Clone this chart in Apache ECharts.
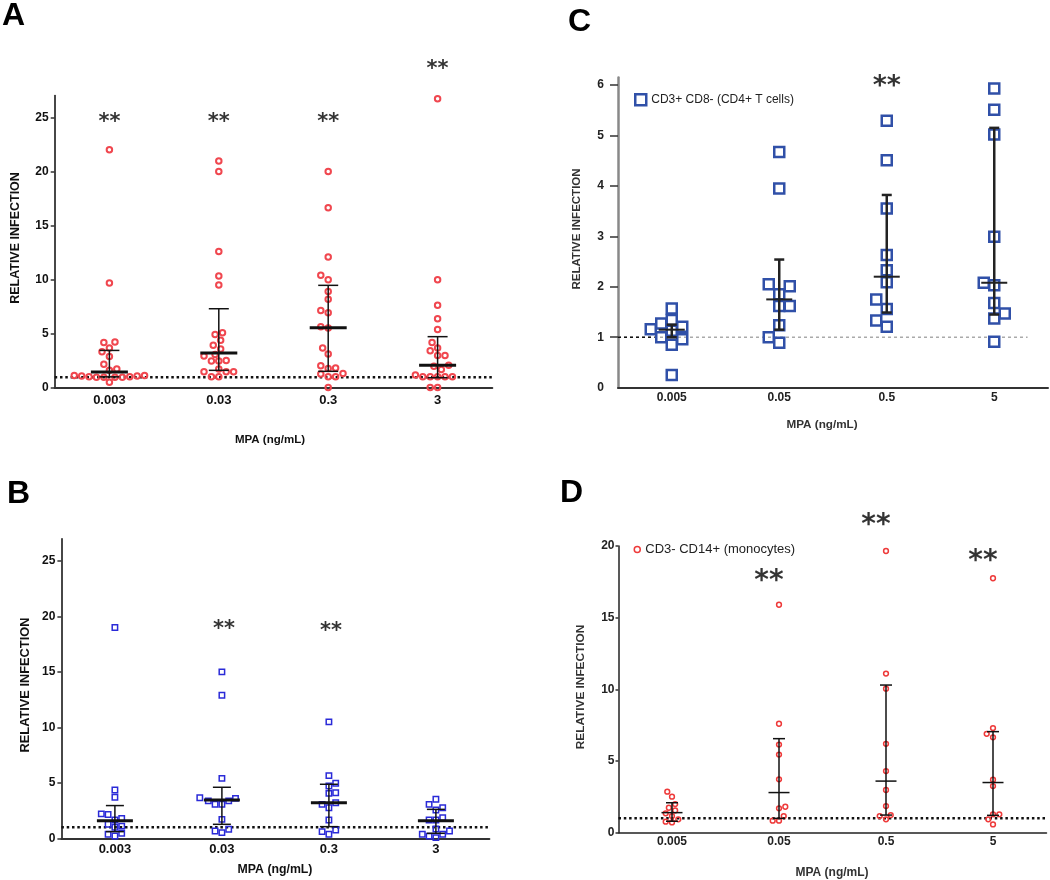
<!DOCTYPE html>
<html><head><meta charset="utf-8">
<script src="https://cdn.jsdelivr.net/npm/echarts@6/dist/echarts.min.js"></script>
<style>html,body{margin:0;padding:0;background:#fff}#c{width:1050px;height:880px}</style>
</head><body><div id="c"></div>
<script>
// ---------------- DATA ----------------
const catsAB = ['0.003', '0.03', '0.3', '3'];
const catsCD = ['0.005', '0.05', '0.5', '5'];
const ticksAB = [0, 5, 10, 15, 20, 25];
const ticksC = [0, 1, 2, 3, 4, 5, 6];
const ticksD = [0, 5, 10, 15, 20];
const refValue = 1;

// Panel A (circles)
const a0 = [22.0, 9.7, 4.25, 4.2, 3.7, 3.35, 2.9, 2.2, 1.75, 1.65, 1.15, 1.1, 1.05, 1.0, 1.0, 1.0, 1.0, 1.05, 1.1, 1.15, 0.52];
const a1 = [20.96, 20.0, 12.6, 10.35, 9.5, 5.1, 4.95, 4.4, 3.95, 3.6, 3.1, 2.95, 2.55, 2.5, 2.5, 1.75, 1.5, 1.5, 1.5, 1.05, 1.05];
const a2 = [20.0, 16.65, 12.1, 10.4, 10.0, 8.9, 8.2, 7.15, 6.95, 5.65, 5.55, 3.7, 3.15, 2.05, 1.85, 1.8, 1.35, 1.3, 1.05, 1.05, 0.05];
const a3 = [26.7, 10.0, 7.65, 6.4, 5.4, 4.2, 3.7, 3.45, 3.0, 3.0, 2.1, 2.0, 1.7, 1.2, 1.05, 1.05, 1.05, 1.05, 1.05, 0.05, 0.05];
const medA = [1.48, 3.23, 5.57, 2.09];
const lowA = [1.03, 1.63, 1.54, 0.95];
const highA = [3.47, 7.32, 9.48, 4.74];
const starsA = [25, 25, 25, 29.9];

// Panel B (squares)
const b0 = [19.0, 4.36, 3.7, 2.2, 2.15, 1.8, 1.65, 1.26, 1.1, 1.0, 0.45, 0.36, 0.21];
const b1 = [15.0, 12.9, 5.4, 3.66, 3.6, 3.37, 3.37, 3.07, 3.07, 1.71, 0.81, 0.66, 0.51];
const b2 = [10.5, 5.65, 4.96, 4.72, 4.11, 4.05, 3.21, 3.06, 2.76, 1.65, 0.75, 0.6, 0.36];
const b3 = [3.52, 3.06, 2.76, 2.55, 1.86, 1.65, 1.65, 0.84, 0.66, 0.36, 0.36, 0.2, 0.06];
const medB = [1.59, 3.45, 3.21, 1.59];
const lowB = [0.6, 1.26, 1.05, 0.45];
const highB = [2.95, 4.6, 4.87, 2.61];
const starsB = [null, 19.3, 19.1, null];

// Panel C (CD4+ T cells)
const c0 = [1.57, 1.34, 1.27, 1.21, 1.16, 1.13, 1.0, 0.96, 0.85, 0.25];
const c1 = [4.67, 3.95, 2.05, 2.01, 1.85, 1.62, 1.62, 1.24, 1.0, 0.89];
const c2 = [5.29, 4.51, 3.55, 2.63, 2.33, 2.09, 1.75, 1.56, 1.33, 1.21];
const c3 = [5.93, 5.51, 5.02, 2.99, 2.08, 2.03, 1.68, 1.47, 1.37, 0.91];
const medC = [1.15, 1.75, 2.2, 2.08];
const lowC = [1.0, 1.15, 1.49, 1.45];
const highC = [1.25, 2.54, 3.82, 5.15];
const starsC = [null, null, 6.09, null];
const nameC = 'CD3+ CD8- (CD4+ T cells)';

// Panel D (monocytes)
const d0 = [2.86, 2.51, 2.0, 1.74, 1.55, 1.35, 1.16, 0.93, 0.77, 0.72];
const d1 = [15.9, 7.6, 6.15, 5.45, 3.72, 1.81, 1.7, 1.16, 0.84, 0.84];
const d2 = [19.65, 11.1, 10.05, 6.2, 4.3, 2.98, 1.86, 1.23, 1.16, 0.93];
const d3 = [17.75, 7.3, 6.9, 6.65, 3.7, 3.25, 1.28, 1.28, 0.93, 0.58];
const medD = [1.4, 2.8, 3.6, 3.5];
const lowD = [0.8, 1.0, 1.23, 1.21];
const highD = [2.09, 6.56, 10.3, 7.05];
const starsD = [null, 18.0, 21.9, 19.4];
const nameD = 'CD3- CD14+ (monocytes)';

// ---------------- LAYOUT / STYLE ----------------
const FONT = '"Liberation Sans", Arial, Helvetica, sans-serif';
const STARFONT = '"DejaVu Sans", "Liberation Sans", sans-serif';
const panels = [
  { letter: 'A', cats: catsAB, groups: [a0, a1, a2, a3], med: medA, low: lowA, high: highA, stars: starsA,
    grid: { left: 54.7, top: 95.6, width: 437.6, height: 292.4 }, ymax: 27, ticks: ticksAB, tickVals: ticksAB,
    symbol: 'circle', size: 5.5, bw: 2, color: '#f0474f', d: 7.4, square: false,
    capW: 20, medW: 37, lw: 1.5, medLW: 3, barColor: '#111',
    axisColor: '#333', yAxisW: 1.8, xAxisW: 2, tickLen: 4, yMargin: 6, xMargin: 6, tickFont: 12, xTickFont: 13, labelColor: '#111',
    starFont: 21, starOff: 0, refColor: '#111', refType: [2.5, 2.8], refW: 2.5 },
  { letter: 'B', cats: catsAB, groups: [b0, b1, b2, b3], med: medB, low: lowB, high: highB, stars: starsB,
    grid: { left: 61.4, top: 538.8, width: 428, height: 299.5 }, ymax: 27, ticks: ticksAB, tickVals: ticksAB,
    symbol: 'rect', size: 5.4, bw: 1.5, color: '#2a2ad8', d: 6.8, square: true,
    capW: 18, medW: 36, lw: 1.5, medLW: 3, barColor: '#111',
    axisColor: '#333', yAxisW: 1.8, xAxisW: 2, tickLen: 4, yMargin: 6, xMargin: 5, tickFont: 12, xTickFont: 13, labelColor: '#111',
    starFont: 21, starOff: 2, refColor: '#111', refType: [2.5, 2.8], refW: 2.5 },
  { letter: 'C', cats: catsCD, groups: [c0, c1, c2, c3], med: medC, low: lowC, high: highC, stars: starsC, name: nameC,
    grid: { left: 618, top: 77.4, width: 430, height: 310.3 }, ymax: 6.15, ticks: ticksC, tickVals: ticksC.slice(1),
    symbol: 'rect', size: 10, bw: 2.5, color: '#3050a8', d: 10.5, square: true,
    capW: 10, medW: 26, lw: 2.5, medLW: 2, barColor: '#222',
    axisColor: '#888', yAxisW: 2.5, xAxisW: 2, tickLen: 8, yMargin: 14, xMargin: 4, tickFont: 12, xTickFont: 12, labelColor: '#222',
    starFont: 27, starOff: 0, refColor: '#aaa', refType: [3, 3], refW: 1.5 },
  { letter: 'D', cats: catsCD, groups: [d0, d1, d2, d3], med: medD, low: lowD, high: highD, stars: starsD, name: nameD,
    grid: { left: 618.5, top: 546, width: 428, height: 286.7 }, ymax: 20, ticks: ticksD, tickVals: ticksD,
    symbol: 'circle', size: 4.8, bw: 1.5, color: '#ee3a3a', d: 6.3, square: false,
    capW: 12, medW: 21, lw: 1.5, medLW: 1.5, barColor: '#111',
    axisColor: '#222', yAxisW: 1.5, xAxisW: 1.5, tickLen: 3, yMargin: 4, xMargin: 3, tickFont: 12, xTickFont: 12, labelColor: '#222',
    starFont: 28, starOff: -10, refColor: '#111', refType: [2.5, 2.8], refW: 2.5 }
];

// beeswarm-style horizontal spreading (pixel based, converted to axis units)
function swarm(vals, dPx, pxX, pxY, square) {
  const order = vals.map((v, i) => i).sort((a, b) => vals[a] - vals[b]);
  const placed = [];
  const offs = new Array(vals.length).fill(0);
  const step = dPx / 4;
  order.forEach((i, n) => {
    const y = vals[i] * pxY;
    const sgn = n % 2 ? -1 : 1;
    for (let k = 0; k < 400; k++) {
      const m = Math.ceil(k / 2) * (k % 2 ? sgn : -sgn);
      const x = m * step;
      let ok = true;
      for (const p of placed) {
        const dx = Math.abs(p.x - x), dy = Math.abs(p.y - y);
        const hit = square ? (dx < dPx && dy < dPx) : (dx * dx + dy * dy < dPx * dPx);
        if (hit) { ok = false; break; }
      }
      if (ok) { placed.push({ x, y }); offs[i] = x / pxX; break; }
    }
  });
  return offs;
}

const grids = [], xAxes = [], yAxes = [], series = [], graphics = [], legends = [];
panels.forEach((p, i) => {
  grids.push(Object.assign({}, p.grid));
  const pxX = p.grid.width / 4, pxY = p.grid.height / p.ymax;
  xAxes.push({
    gridIndex: i, type: 'value', min: -0.5, max: 3.5,
    axisLine: { show: true, onZero: false, lineStyle: { color: p.axisColor === '#888' ? '#333' : p.axisColor, width: p.xAxisW } },
    axisTick: { show: false }, splitLine: { show: false },
    axisLabel: { customValues: [0, 1, 2, 3], formatter: v => p.cats[Math.round(v)], margin: p.xMargin,
      fontSize: p.xTickFont, fontWeight: 'bold', color: p.labelColor, fontFamily: FONT }
  });
  yAxes.push({
    gridIndex: i, type: 'value', min: 0, max: p.ymax,
    axisLine: { show: true, onZero: false, lineStyle: { color: p.axisColor, width: p.yAxisW } },
    axisTick: { show: true, customValues: p.tickVals, length: p.tickLen, lineStyle: { color: '#333', width: 1.5 } },
    splitLine: { show: false },
    axisLabel: { customValues: p.ticks, margin: p.yMargin, fontSize: p.tickFont, fontWeight: 'bold', color: p.labelColor, fontFamily: FONT }
  });
  // points
  const pts = [];
  p.groups.forEach((vals, ci) => {
    const offs = swarm(vals, p.d, pxX, pxY, p.square);
    vals.forEach((v, k) => pts.push([ci + offs[k], v]));
  });
  series.push({
    type: 'scatter', name: p.name || ('P' + p.letter), xAxisIndex: i, yAxisIndex: i, data: pts,
    symbol: p.symbol, symbolSize: p.size, z: 2,
    itemStyle: { color: 'rgba(255,255,255,0)', borderColor: p.color, borderWidth: p.bw, opacity: 1 },
    emphasis: { disabled: true }, silent: true
  });
  // reference line
  if (p.letter === 'C') {
    series.push({ type: 'line', xAxisIndex: i, yAxisIndex: i, data: [[-0.5, refValue], [3.31, refValue]], showSymbol: false,
      lineStyle: { color: p.refColor, type: p.refType, width: p.refW }, silent: true, z: 1 });
    series.push({ type: 'line', xAxisIndex: i, yAxisIndex: i, data: [[-0.5, refValue], [-0.16, refValue]], showSymbol: false,
      lineStyle: { color: '#111', type: [3, 3], width: 1.5 }, silent: true, z: 1 });
  } else {
    series.push({ type: 'line', xAxisIndex: i, yAxisIndex: i, data: [[-0.5, refValue], [3.5, refValue]], showSymbol: false,
      lineStyle: { color: p.refColor, type: p.refType, width: p.refW }, silent: true, z: 1 });
  }
  // error bars (median with interquartile range)
  series.push({
    type: 'custom', xAxisIndex: i, yAxisIndex: i, z: 3, silent: true,
    data: p.cats.map((c, ci) => [ci, p.low[ci], p.med[ci], p.high[ci]]),
    encode: { x: 0, y: [1, 2, 3] },
    renderItem: (params, api) => {
      const x = api.value(0);
      const lo = api.coord([x, api.value(1)]), md = api.coord([x, api.value(2)]), hi = api.coord([x, api.value(3)]);
      const st = { stroke: p.barColor, lineWidth: p.lw };
      const cw = p.capW / 2, mw = p.medW / 2;
      return { type: 'group', children: [
        { type: 'line', shape: { x1: lo[0], y1: lo[1], x2: hi[0], y2: hi[1] }, style: st },
        { type: 'line', shape: { x1: lo[0] - cw, y1: lo[1], x2: lo[0] + cw, y2: lo[1] }, style: st },
        { type: 'line', shape: { x1: hi[0] - cw, y1: hi[1], x2: hi[0] + cw, y2: hi[1] }, style: st },
        { type: 'line', shape: { x1: md[0] - mw, y1: md[1], x2: md[0] + mw, y2: md[1] }, style: { stroke: p.barColor, lineWidth: p.medLW } }
      ] };
    }
  });
  // significance stars
  const sd = [];
  p.stars.forEach((v, ci) => { if (v != null) sd.push([ci, v]); });
  series.push({
    type: 'scatter', xAxisIndex: i, yAxisIndex: i, data: sd, symbolSize: 1, clip: false, silent: true, z: 4,
    itemStyle: { color: 'rgba(0,0,0,0)' },
    label: { show: true, position: 'inside', formatter: '**', fontSize: p.starFont, fontWeight: 'bold',
      color: '#000', fontFamily: STARFONT, offset: [p.starOff, Math.round(p.starFont * 0.25)] }
  });
  // panel letter
  const letterPos = { A: [2, 16], B: [7, 494], C: [568, 22], D: [560, 493] }[p.letter];
  graphics.push({ type: 'text', x: letterPos[0], y: letterPos[1],
    style: { text: p.letter, font: 'bold 32px ' + FONT, fill: '#000', align: 'left', verticalAlign: 'middle' } });
});

// axis titles
const yNames = [[16, 238, 12.5, '#111'], [25, 685, 12.8, '#111'], [577, 229, 11.5, '#333'], [581, 687, 11.8, '#333']];
const xNames = [[270, 440, 11.5, '#111'], [275, 870, 12.3, '#111'], [822, 425, 11.7, '#333'], [832, 873, 12, '#333']];
yNames.forEach(n => graphics.push({ type: 'text', x: n[0], y: n[1], rotation: Math.PI / 2,
  style: { text: 'RELATIVE INFECTION', font: 'bold ' + n[2] + 'px ' + FONT, fill: n[3], align: 'center', verticalAlign: 'middle' } }));
xNames.forEach(n => graphics.push({ type: 'text', x: n[0], y: n[1],
  style: { text: 'MPA (ng/mL)', font: 'bold ' + n[2] + 'px ' + FONT, fill: n[3], align: 'center', verticalAlign: 'middle' } }));

legends.push({ data: [nameC], left: 634, top: 93, padding: 0, itemWidth: 11, itemHeight: 11, selectedMode: false, icon: 'rect',
  itemStyle: { color: 'rgba(0,0,0,0)', borderColor: '#3050a8', borderWidth: 2.5 },
  textStyle: { fontSize: 12, color: '#222', fontFamily: FONT } });
legends.push({ data: [nameD], left: 633.5, top: 543, padding: 0, itemWidth: 6, itemHeight: 6, selectedMode: false, icon: 'circle',
  itemStyle: { color: 'rgba(0,0,0,0)', borderColor: '#ee3a3a', borderWidth: 1.5 },
  textStyle: { fontSize: 13, color: '#222', fontFamily: FONT } });

const chart = echarts.init(document.getElementById('c'), null, { renderer: 'canvas' });
chart.setOption({
  animation: false, backgroundColor: '#fff',
  grid: grids, xAxis: xAxes, yAxis: yAxes, legend: legends, graphic: graphics, series: series
});
</script></body></html>
